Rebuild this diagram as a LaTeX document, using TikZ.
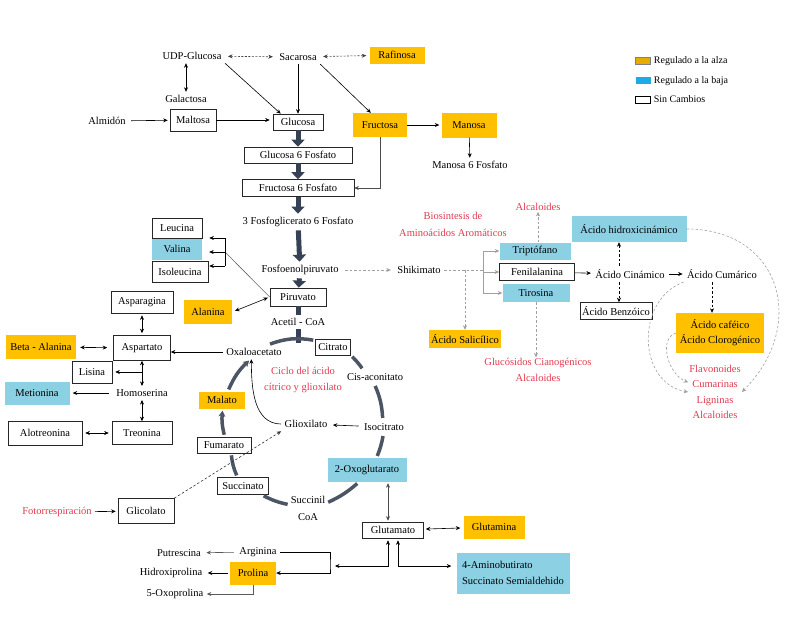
\documentclass[tikz,border=0pt]{standalone}
\usepackage{fontspec}
\setmainfont{Liberation Serif}
\usetikzlibrary{positioning, arrows.meta, calc}

\definecolor{upcol}{RGB}{255,192,0}
\definecolor{downcol}{RGB}{140,208,228}
\definecolor{keyblue}{RGB}{30,170,230}
\definecolor{notecol}{RGB}{226,58,80}
\definecolor{flowcol}{RGB}{55,65,85}
\definecolor{cyccol}{RGB}{75,85,100}

\tikzset{
  sz/.style 2 args={minimum width=#1pt, minimum height=#2pt},
  box/.style={draw=black!85, line width=0.6pt, inner sep=2pt},
  up/.style={fill=upcol, inner sep=2pt},
  down/.style={fill=downcol, inner sep=2pt},
  note/.style={text=notecol, align=center, inner sep=1pt, font=\fontsize{10.5}{15.5}\selectfont},
  arr/.style={line width=0.6pt, -{Stealth[length=4.5pt,width=4pt]}},
  darr/.style={line width=0.6pt, {Stealth[length=4.5pt,width=4pt]}-{Stealth[length=4.5pt,width=4pt]}},
  dotarr/.style={darr, black!75, dash pattern=on 2pt off 1.5pt},
  softarr/.style={arr, gray!75, dash pattern=on 2.5pt off 2pt},
  soft/.style={line width=0.6pt, gray!75, dash pattern=on 2.5pt off 2pt},
  blkdash/.style={arr, dash pattern=on 2.5pt off 2pt},
  flow/.style={line width=5pt, draw=flowcol, -{Triangle[length=7pt,width=13pt]}},
  bar/.style={line width=5pt, draw=flowcol},
  cyc/.style={line width=3.5pt, draw=cyccol, shorten <=2pt, shorten >=2pt},
  cycarr/.style={cyc, -{Stealth[length=6pt,width=7pt]}},
  key/.style={inner sep=0pt, minimum width=15pt, minimum height=7pt},
}

\begin{document}
\begin{tikzpicture}[x=1pt, y=-1pt, font=\fontsize{10.5}{12}\selectfont]
\useasboundingbox (0,0) rectangle (812,641);

% azucares
\node (udp) at (192,56) {UDP-Glucosa};
\node (sac) at (298,57) {Sacarosa};
\node[up, sz={55}{17}] (raf) at (397,55) {Rafinosa};
\node (gal) at (186,99) {Galactosa};
\node (alm) at (107,121) {Almidón};
\node[box, sz={46}{22}] (malt) at (193,120) {Maltosa};
\node[box, sz={50}{16}] (glc) at (298,122) {Glucosa};
\node[up, sz={54}{24}] (fru) at (380,125) {Fructosa};
\node[up, sz={55}{25}] (man) at (469,125) {Manosa};
\node (m6p) at (470,165) {Manosa 6 Fosfato};
\node[box, sz={108}{16}] (g6p) at (298,155) {Glucosa 6 Fosfato};
\node[box, sz={112}{17}] (f6p) at (298,188) {Fructosa 6 Fosfato};
\node (pga) at (298,222) {3 Fosfoglicerato 6 Fosfato};
\node (pep) at (300,270) {Fosfoenolpiruvato};
\node[box, sz={56}{18}] (pir) at (298,297) {Piruvato};
\node (acoa) at (298,322) {Acetil - CoA};
\coordinate (ctop) at (298,343);

\draw[dotarr, shorten <=3pt, shorten >=3pt] (udp) -- (sac);
\draw[dotarr, shorten <=3pt, shorten >=3pt] (sac) -- (raf);
\draw[darr] (gal.north) -- (gal.north |- udp.south);
\draw[arr, shorten <=2pt, shorten >=2pt] (alm) -- (malt);
\draw[arr, shorten >=3pt] (malt.east) -- (malt.east -| glc.west);
\draw[arr] (udp.south east) -- ($(glc.north west)+(8,0)$);
\draw[arr] (sac) -- (glc);
\draw[arr] (sac.south east) -- ($(fru.north west)+(18,0)$);
\draw[arr, shorten >=2pt] (fru) -- (man);
\draw[arr] (man) -- (m6p);
\draw[arr, black!70] (fru.south) |- (f6p.east);
\draw[flow] (glc) -- (g6p);
\draw[flow] (g6p) -- (f6p);
\draw[flow] (f6p) -- (pga);
\draw[flow] (pga) -- (pep);
\draw[flow] (pep) -- (pir);
\draw[bar] (pir) -- (acoa);
\draw[bar] (acoa) -- (ctop);

% aminoacidos
\node[box, sz={50}{20}] (leu) at (177,228) {Leucina};
\node[down, sz={50}{21}] (val) at (177,249) {Valina};
\node[box, sz={56}{21}] (ile) at (180,272) {Isoleucina};
\coordinate (bt) at (225,238);
\coordinate (bcat) at (225,252);
\coordinate (bb) at (225,266);
\draw[black!60, line width=0.6pt] (pir.west) -- (bcat);
\draw[line width=0.6pt] (bt) -- (bb);
\draw[arr, shorten >=7pt] (bt) -- (bt -| leu.east);
\draw[arr, shorten >=7pt] (bcat) -- (bcat -| val.east);
\draw[arr, shorten >=1pt] (bb) -- (bb -| ile.east);

\node[up, sz={48}{24}] (ala) at (208,312) {Alanina};
\node[box, sz={62}{22}] (asn) at (142,302) {Asparagina};
\node[box, sz={57}{25}] (asp) at (142,348) {Aspartato};
\node[up, sz={70}{24}] (bala) at (41,347) {Beta - Alanina};
\node (oaa) at (254,352) {Oxaloacetato};
\node[box, sz={40}{22}] (lis) at (92,372) {Lisina};
\node (hser) at (142,393) {Homoserina};
\node[down, sz={65}{23}] (met) at (37,393) {Metionina};
\node[box, sz={60}{23}] (thr) at (142,433) {Treonina};
\node[box, sz={74}{24}] (athr) at (45,433) {Alotreonina};

\draw[darr, shorten <=3pt, shorten >=2pt] (ala.east) -- (pir.west);
\draw[darr, shorten <=2pt, shorten >=2pt] (asn) -- (asp);
\draw[darr, shorten <=4pt, shorten >=6pt] (bala) -- (asp);
\draw[arr] (oaa.west) -- (oaa.west -| asp.east);
\draw[darr] (asp) -- (hser);
\draw[arr, shorten >=3pt] (asp.south |- lis) -- (lis.east);
\draw[arr, shorten <=4pt, shorten >=3pt] (hser) -- (met);
\draw[darr] (hser) -- (thr);
\draw[darr, shorten <=3pt, shorten >=3pt] (athr) -- (thr);

% ciclo
\node[box, sz={35}{16}] (cit) at (333,347) {Citrato};
\node (cis) at (375,377) {Cis-aconitato};
\node (iso) at (384,427) {Isocitrato};
\node[down, sz={79}{24}] (ogl) at (367,470) {2-Oxoglutarato};
\node[align=center, inner sep=1pt, font=\fontsize{10.5}{17}\selectfont] (scoa) at (308,508) {Succinil\\CoA};
\node[box, sz={51}{17}] (suc) at (243,486) {Succinato};
\node[box, sz={54}{16}] (fum) at (224,445) {Fumarato};
\node[up, sz={46}{17}] (mala) at (222,400) {Malato};
\node (glx) at (306,424) {Glioxilato};
\node[note] (ciclo) at (303,380) {Ciclo del ácido\\cítrico y glioxilato};
\node[box, sz={56}{25}] (gly) at (146,511) {Glicolato};
\node[note] (foto) at (57,512) {Fotorrespiración};

\draw[cyc] (oaa.27) to[bend left=15] (cit.160);
\draw[cyc] (cit.south east) to[bend left=5] (cis.149);
\draw[cyc] (cis.-95) to[bend left=10] (iso.100);
\draw[cyc] (iso.-95) to[bend left=6] (ogl.52);
\draw[cyc] (ogl.-124) to[bend left=8] (scoa.15);
\draw[cyc] (scoa.170) to[bend left=8] (suc.-25);
\draw[cyc] (suc.122) to[bend left=9] (fum.-49);
\draw[cycarr] (fum.85) to[bend left=10] (mala.-85);
\draw[cycarr] (mala.56) to[bend left=12] (oaa.-115);
\draw[arr, shorten <=2pt, shorten >=2pt] (iso) -- (glx);
\draw[arr] (glx.west) to[out=180, in=-90] (oaa.-110);
\draw[arr, black!80, dash pattern=on 2.5pt off 2pt] (gly.north east) -- (glx.south west);
\draw[arr, shorten <=2pt, shorten >=2pt] (foto) -- (gly);

% aromaticos
\node (shk) at (419,270) {Shikimato};
\node[note, font=\fontsize{10.5}{17}\selectfont] (bio) at (453,224) {Biosintesis de\\Aminoácidos Aromáticos};
\node[note] (alc1) at (538,207) {Alcaloides};
\node[down, sz={71}{17}] (trp) at (535,251) {Triptófano};
\node[box, sz={75}{17}] (phe) at (537,272) {Fenilalanina};
\node[down, sz={67}{18}] (tyr) at (536,293) {Tirosina};
\node[up, sz={71}{18}] (sal) at (465,339) {Ácido Salicílico};
\node[note] (glu) at (538,370) {Glucósidos Cianogénicos\\Alcaloides};
\coordinate (sbr) at (483,270);

\draw[softarr, shorten <=3pt, shorten >=3pt] (pep) -- (shk);
\draw[soft] (shk) -- (sbr);
\draw[gray!75, line width=0.6pt] (sbr |- trp) -- (sbr |- tyr);
\draw[arr, gray!75] (sbr |- trp) -- (trp.west);
\draw[arr, gray!75] (sbr) -- (sbr |- phe.west) -- (phe.west);
\draw[arr, gray!75] (sbr |- tyr) -- (tyr.west);
\draw[softarr] (sal.north |- shk) -- (sal.north);
\draw[softarr] (alc1.south |- trp.north) -- (alc1.south);
\draw[softarr] (tyr.south) -- (tyr.south |- glu.north);

\node (cin) at (630,274) {Ácido Cinámico};
\node[down, sz={115}{26}] (hcin) at (629,229) {Ácido hidroxicinámico};
\node[box, sz={72}{17}] (benz) at (616,311) {Ácido Benzóico};
\node (cum) at (722,274) {Ácido Cumárico};
\node[up, sz={88}{40}, align=center, font=\fontsize{10.5}{15}\selectfont] (caf) at (720,333) {Ácido caféico\\Ácido Clorogénico};
\node[note] (flav) at (715,392) {Flavonoides\\Cumarinas\\Ligninas\\Alcaloides};
\coordinate (cinx) at (619,274);

\draw[arr, shorten >=1pt] (phe) -- (cin);
\draw[blkdash] (cinx |- cin.north) -- (cinx |- hcin.south);
\draw[blkdash] (cinx |- cin.south) -- (cinx |- benz.north);
\draw[arr, shorten <=1pt, shorten >=1pt] (cin) -- (cum);
\draw[blkdash] (cum.-141) -- (cum.-141 |- caf.north);
\draw[softarr] (hcin.east) to[out=0, in=45, looseness=1.4] (flav.east);
\draw[softarr] (cum.south west) to[out=200, in=170, looseness=1.2] (flav.west);
\draw[softarr] (caf.west) to[out=200, in=160] (flav.160);

% glutamato
\node[box, sz={61}{16}] (glut) at (393,530) {Glutamato};
\node[up, sz={61}{23}] (gln) at (494,527) {Glutamina};
\node[down, sz={113}{41}, align=left, font=\fontsize{10.5}{16}\selectfont] (gaba) at (513,573) {4-Aminobutirato\\Succinato Semialdehido};
\node (arg) at (258,552) {Arginina};
\node[up, sz={46}{23}] (pro) at (253,573) {Prolina};
\node (put) at (179,553) {Putrescina};
\node (hyp) at (171,573) {Hidroxiprolina};
\node (oxo) at (175,594) {5-Oxoprolina};
\coordinate (gl) at (388,530);
\coordinate (gr) at (398,530);
\coordinate (apx) at (330,566);

\draw[darr, black!70, shorten <=1pt, shorten >=1pt] (gl |- glut.north) -- (gl |- ogl.south);
\draw[darr, shorten <=2pt, shorten >=3pt] (glut) -- (gln);
\draw[arr] (arg.east) -| (apx) |- (pro.east);
\draw[darr, shorten <=5pt, shorten >=2pt] (apx) -| (gl |- glut.south);
\draw[darr, shorten <=2pt, shorten >=5pt] (gr |- glut.south) |- (gaba.173);
\draw[arr, black!65, shorten <=2pt, shorten >=2pt] (arg) -- (put);
\draw[arr, shorten <=2pt, shorten >=2pt] (pro) -- (hyp);
\draw[arr, black!65] (pro.south) |- (oxo.east);

% leyenda
\begin{scope}[font=\fontsize{10}{12}\selectfont]
\node[key, fill=upcol!90!black, draw=gray] (kup) at (643,61) {};
\node[key, fill=keyblue] (kdown) at (643,80) {};
\node[key, fill=white, draw=black] (knone) at (643,99.5) {};
\node[right=2pt of kup, inner sep=1pt] (tup) {Regulado a la alza};
\node[right=2pt of kdown, inner sep=1pt, yshift=-1.5pt] (tdown) {Regulado a la baja};
\node[right=2pt of knone, inner sep=1pt] (tnone) {Sin Cambios};
\end{scope}
\end{tikzpicture}
\end{document}
